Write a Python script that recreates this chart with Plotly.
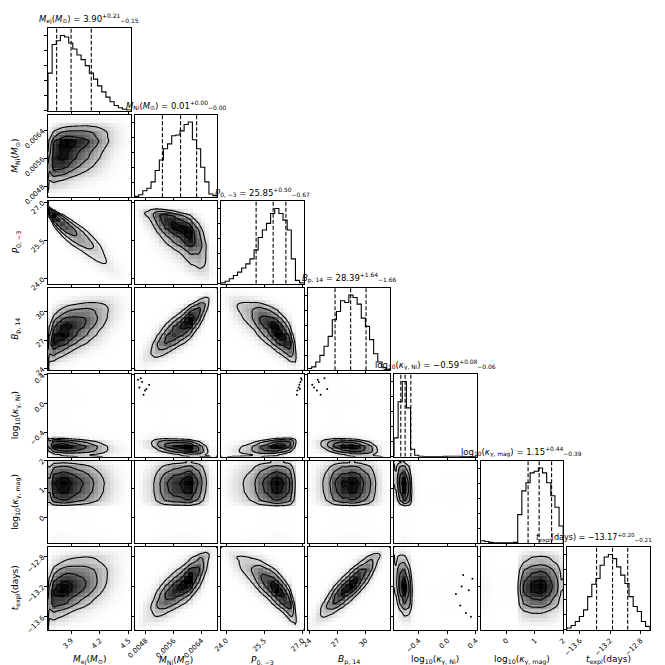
import math
import numpy as np
import plotly.graph_objects as go

# axis labels of the seven parameters
LABELS = [
    "<i>M</i><sub>ej</sub>(<i>M</i><sub>⊙</sub>)",
    "<i>M</i><sub>Ni</sub>(<i>M</i><sub>⊙</sub>)",
    "<i>P</i><sub>0, −3</sub>",
    "<i>B</i><sub>p, 14</sub>",
    "log<sub>10</sub>(<i>κ</i><sub>γ, Ni</sub>)",
    "log<sub>10</sub>(<i>κ</i><sub>γ, mag</sub>)",
    "<i>t</i><sub>expl</sub>(days)",
]

RANGES = [(3.66, 4.52), (0.00448, 0.00685), (23.80, 27.05), (23.8, 32.6),
          (-0.745, 0.41), (-0.92, 2.0), (-13.77, -12.68)]

TICK_VALS = [[3.9, 4.2, 4.5], [0.0048, 0.0056, 0.0064], [24.0, 25.5, 27.0],
             [24, 27, 30], [-0.4, 0.0, 0.4], [0, 1, 2], [-13.6, -13.2, -12.8]]
TICK_TEXT = [["3.9", "4.2", "4.5"], ["0.0048", "0.0056", "0.0064"],
             ["24.0", "25.5", "27.0"], ["24", "27", "30"],
             ["−0.4", "0.0", "0.4"], ["0", "1", "2"],
             ["−13.6", "−13.2", "−12.8"]]

# 1D marginal histograms (20 bins over each range, relative heights)
HIST_MEJ = [0.50, 0.88, 0.93, 1.00, 0.98, 0.90, 0.82, 0.74, 0.68, 0.60,
            0.50, 0.42, 0.33, 0.25, 0.18, 0.12, 0.07, 0.04, 0.02, 0.01]
HIST_MNI = [0.01, 0.03, 0.08, 0.11, 0.19, 0.33, 0.46, 0.60, 0.66, 0.76,
            0.77, 0.82, 0.90, 0.93, 0.71, 0.60, 0.37, 0.19, 0.04, 0.02]
HIST_P = [0.01, 0.03, 0.06, 0.10, 0.14, 0.19, 0.24, 0.30, 0.41, 0.56,
          0.65, 0.73, 0.85, 0.91, 0.85, 0.77, 0.65, 0.30, 0.04, 0.01]
HIST_B = [0.02, 0.04, 0.10, 0.18, 0.29, 0.41, 0.61, 0.71, 0.84, 0.82,
          0.91, 0.88, 0.80, 0.63, 0.53, 0.37, 0.20, 0.10, 0.03, 0.01]
HIST_KNI = [0.25, 0.73, 1.00, 0.65, 0.10, 0.02, 0.005, 0.002, 0.002, 0.002,
            0.002, 0.002, 0.004, 0.005, 0.005, 0.005, 0.004, 0.003, 0.001, 0.001]
HIST_KMAG = [0.03, 0.02, 0.01, 0.005, 0.004, 0.004, 0.004, 0.005, 0.01, 0.35,
             0.64, 0.74, 0.86, 0.88, 0.92, 0.86, 0.74, 0.58, 0.44, 0.21]
HIST_T = [0.02, 0.05, 0.10, 0.16, 0.24, 0.40, 0.55, 0.62, 0.78, 0.88,
          0.91, 0.86, 0.76, 0.66, 0.56, 0.40, 0.28, 0.22, 0.10, 0.04]
HISTS = [HIST_MEJ, HIST_MNI, HIST_P, HIST_B, HIST_KNI, HIST_KMAG, HIST_T]

# 16/50/84 percentiles
QUANT_MID = [3.90, 0.00580, 25.85, 28.39, -0.59, 1.15, -13.17]
QUANT_LO = [0.15, 0.00052, 0.67, 1.66, 0.06, 0.39, 0.21]
QUANT_HI = [0.21, 0.00046, 0.50, 1.64, 0.08, 0.44, 0.20]

# correlation of each lower-triangle panel, row by row
RHO = [0.30,
       -0.90, -0.60,
       0.50, 0.80, -0.70,
       -0.20, -0.35, 0.35, -0.30,
       0.00, 0.05, 0.00, 0.00, -0.15,
       0.35, 0.75, -0.80, 0.85, -0.20, 0.05]

# a few stray samples with high kappa_Ni
OUT_MEJ = [3.72, 3.78, 3.75, 3.80, 3.70, 3.76, 3.83, 3.74]
OUT_MNI = [0.00462, 0.00470, 0.00478, 0.00466, 0.00490, 0.00474, 0.00458, 0.00482]
OUT_P = [26.85, 26.92, 26.80, 26.95, 26.88, 26.78, 26.97, 26.90]
OUT_B = [24.5, 25.0, 24.8, 25.6, 24.3, 25.2, 24.9, 25.9]
OUT_KNI = [0.22, 0.30, 0.18, 0.35, 0.26, 0.12, 0.33, 0.20]
OUT_KMAG = [-0.80, -0.70, -0.85, -0.60, -0.75, -0.90, -0.65, -0.78]
OUT_T = [-13.05, -13.25, -13.45, -13.10, -13.55, -13.30, -13.60, -13.20]
OUTLIERS = [OUT_MEJ, OUT_MNI, OUT_P, OUT_B, OUT_KNI, OUT_KMAG, OUT_T]
DOT_PANELS = [(4, 1), (4, 2), (4, 3), (6, 4)]

N = 7
W = 665
LEFT, TOP, STEP, SIZE = 40, 20, 86.5, 82.7
FONT = "DejaVu Sans"

_zz = np.linspace(-6, 6, 2401)
_cdf = 0.5 * (1 + np.array([math.erf(v / math.sqrt(2)) for v in _zz]))


def ppf(p):
    return np.interp(p, _cdf, _zz)


def edges_centers(i):
    lo, hi = RANGES[i]
    e = np.linspace(lo, hi, len(HISTS[i]) + 1)
    return e, 0.5 * (e[1:] + e[:-1])


def marginal(i, x):
    h = np.asarray(HISTS[i], float)
    e, c = edges_centers(i)
    pdf = h / (h.sum() * (e[1] - e[0]))
    cdf = np.concatenate([[0], np.cumsum(h)]) / h.sum()
    return np.interp(x, c, pdf), np.interp(x, e, cdf)


def joint(ix, iy, rho, x, y):
    fx, Fx = marginal(ix, x)
    fy, Fy = marginal(iy, y)
    zx = ppf(np.clip(Fx, 1e-5, 1 - 1e-5))
    zy = ppf(np.clip(Fy, 1e-5, 1 - 1e-5))
    ZX, ZY = np.meshgrid(zx, zy)
    c = np.exp(-(rho ** 2 * (ZX ** 2 + ZY ** 2) - 2 * rho * ZX * ZY)
               / (2 * (1 - rho ** 2))) / np.sqrt(1 - rho ** 2)
    return np.outer(fy, fx) * c


def sigma_field(d):
    flat = d.ravel()
    order = np.argsort(flat)[::-1]
    cum = np.cumsum(flat[order])
    cum /= cum[-1]
    mass = np.empty_like(cum)
    mass[order] = cum
    mass = np.minimum(mass, 1 - 1e-12)
    return np.sqrt(-2 * np.log(1 - mass)).reshape(d.shape)


def fmt(v):
    return f"{v:.2f}".replace("-", "−")


def ax_id(r, c):
    n = r * N + c + 1
    return ("" if n == 1 else str(n))


fig = go.Figure()
layout = {}
annotations = []
tick_font = dict(family=FONT, size=7, color="black")
base_axis = dict(showline=True, mirror=True, linecolor="black", linewidth=1,
                 ticks="outside", ticklen=3, tickcolor="black", tickwidth=1,
                 showgrid=False, zeroline=False, tickfont=tick_font,
                 tickangle=-45, automargin=False)

rho_iter = iter(RHO)
for r in range(N):
    for c in range(r + 1):
        k = ax_id(r, c)
        xa, ya = "x" + k, "y" + k
        x0 = LEFT + c * STEP
        y0 = TOP + r * STEP
        xdom = [x0 / W, (x0 + SIZE) / W]
        ydom = [1 - (y0 + SIZE) / W, 1 - y0 / W]

        xaxis = dict(base_axis, domain=xdom, range=list(RANGES[c]), anchor=ya,
                     tickvals=TICK_VALS[c], ticktext=TICK_TEXT[c],
                     showticklabels=(r == N - 1))
        if r == c:
            h = np.asarray(HISTS[c], float)
            e, _ = edges_centers(c)
            top = 1.1 * h.max()
            xs = [e[0]] + list(e[:-1]) + [e[-1]]
            ys = [0] + list(h) + [0]
            fig.add_trace(go.Scatter(x=xs, y=ys, mode="lines", line_shape="hv",
                                     line=dict(color="black", width=1.1),
                                     xaxis=xa, yaxis=ya, showlegend=False,
                                     hoverinfo="skip"))
            m, lo, hi = QUANT_MID[c], QUANT_LO[c], QUANT_HI[c]
            for q in (m - lo, m, m + hi):
                fig.add_trace(go.Scatter(x=[q, q], y=[0, top], mode="lines",
                                         line=dict(color="black", width=1.1, dash="4px,2px"),
                                         xaxis=xa, yaxis=ya, showlegend=False,
                                         hoverinfo="skip"))
            yaxis = dict(base_axis, domain=ydom, range=[0, top], anchor=xa,
                         tickvals=list(np.linspace(0, h.max(), 6)),
                         showticklabels=False)
            last = c == N - 1
            annotations.append(dict(
                text=f"{LABELS[c]} = {fmt(m)}<sup>+{fmt(hi)}</sup><sub>−{fmt(lo)}</sub>",
                x=(586 if last else x0 + SIZE / 2) / W, y=1 - (y0 - 1) / W,
                xref="paper", yref="paper",
                xanchor="center", yanchor="bottom", showarrow=False,
                font=dict(family=FONT, size=8 if last else 8.5, color="black")))
        else:
            rho = next(rho_iter)
            _, cx = edges_centers(c)
            _, cy = edges_centers(r)
            dens = joint(c, r, rho, cx, cy)
            fig.add_trace(go.Heatmap(x=cx, y=cy, z=dens, zmin=0, zmax=dens.max(),
                                     colorscale=[[0, "white"], [1, "black"]],
                                     showscale=False, xaxis=xa, yaxis=ya,
                                     hoverinfo="skip"))
            if (r, c) in DOT_PANELS:
                fig.add_trace(go.Scatter(x=OUTLIERS[c], y=OUTLIERS[r], mode="markers",
                                         marker=dict(color="black", size=2),
                                         xaxis=xa, yaxis=ya, showlegend=False,
                                         hoverinfo="skip"))
            fx = np.linspace(*RANGES[c], 80)
            fy = np.linspace(*RANGES[r], 80)
            sig = sigma_field(joint(c, r, rho, fx, fy))
            fig.add_trace(go.Contour(x=fx, y=fy, z=sig, autocontour=False,
                                     contours=dict(coloring="lines", start=0.5,
                                                   end=2.0, size=0.5),
                                     colorscale=[[0, "black"], [1, "black"]],
                                     line=dict(width=1.1), showscale=False,
                                     xaxis=xa, yaxis=ya, hoverinfo="skip"))
            yaxis = dict(base_axis, domain=ydom, range=list(RANGES[r]), anchor=xa,
                         tickvals=TICK_VALS[r], ticktext=TICK_TEXT[r],
                         showticklabels=(c == 0))
        layout["xaxis" + k] = xaxis
        layout["yaxis" + k] = yaxis

label_font = dict(family=FONT, size=9, color="black")
for i in range(N):
    annotations.append(dict(text=LABELS[i], x=(LEFT + i * STEP + SIZE / 2) / W,
                            y=1 - 652 / W, xref="paper", yref="paper",
                            xanchor="center", yanchor="middle", showarrow=False,
                            font=label_font))
for i in range(1, N):
    annotations.append(dict(text=LABELS[i], x=8 / W,
                            y=1 - (TOP + i * STEP + SIZE / 2) / W,
                            xref="paper", yref="paper", textangle=-90,
                            xanchor="center", yanchor="middle", showarrow=False,
                            font=label_font))

fig.update_layout(
    template="none",
    width=W, height=W,
    margin=dict(l=0, r=0, t=0, b=0),
    paper_bgcolor="white", plot_bgcolor="white",
    font=dict(family=FONT, color="black"),
    showlegend=False,
    annotations=annotations,
    **layout,
)

fig.write_html("out.html")
